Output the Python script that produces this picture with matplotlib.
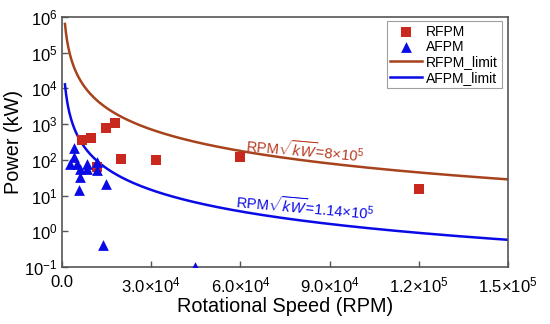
import numpy as np
import matplotlib
matplotlib.use("Agg")
import matplotlib.pyplot as plt
from matplotlib.ticker import LogLocator, LogFormatterMathtext, NullLocator

plt.rcParams['font.family'] = ['Liberation Sans', 'DejaVu Sans']
plt.rcParams['mathtext.fontset'] = 'custom'
plt.rcParams['mathtext.rm'] = 'Liberation Sans'
plt.rcParams['mathtext.it'] = 'Liberation Sans:italic'
plt.rcParams['mathtext.bf'] = 'Liberation Sans:bold'

# Data
rfpm_rpm = [6600, 9760, 14800, 17700, 19700, 31600, 59800, 120000, 11700]
rfpm_kw = [370, 400, 800, 1100, 103, 98, 122, 15, 65]

afpm_rpm = [4040, 4040, 2690, 4930, 8520, 11900, 6050, 8300, 11670, 6050, 5830, 14800, 13680, 44700]
afpm_kw = [215, 117, 79, 79, 79, 89, 54, 54, 51, 34, 14, 21, 0.41, 0.1]

rfpm_const = 8e5
afpm_const = 1.14e5
limit_rpm_start, limit_rpm_end = 1000, 150000

x_ticks = [0, 30000, 60000, 90000, 120000, 150000]
x_tick_labels = ['0.0', r'3.0×10$^4$', r'6.0×10$^4$', r'9.0×10$^4$', r'1.2×10$^5$', r'1.5×10$^5$']

red_marker = '#C8281E'
red_line = '#A8421C'
blue = '#0A0AE6'

fig = plt.figure(figsize=(5.5, 3.24), dpi=100)
ax = fig.add_axes([0.1127, 0.1759, 0.8109, 0.7716])

rpm = np.linspace(limit_rpm_start, limit_rpm_end, 800)
ax.scatter(rfpm_rpm, rfpm_kw, marker='s', s=42, color=red_marker, label='RFPM', zorder=3, linewidths=0)
ax.scatter(afpm_rpm, afpm_kw, marker='^', s=60, color=blue, label='AFPM', zorder=3, linewidths=0)
ax.plot(rpm, (rfpm_const / rpm) ** 2, color=red_line, lw=1.8, label='RFPM_limit', zorder=2)
ax.plot(rpm, (afpm_const / rpm) ** 2, color=blue, lw=1.8, label='AFPM_limit', zorder=2)

ax.set_yscale('log')
ax.set_xlim(0, 150000)
ax.set_ylim(0.1, 1e6)
ax.set_xticks(x_ticks)
ax.set_xticklabels(x_tick_labels)
ax.yaxis.set_major_locator(LogLocator(base=10, numticks=10))
ax.yaxis.set_major_formatter(LogFormatterMathtext())
ax.yaxis.set_minor_locator(NullLocator())

ax.tick_params(axis='both', direction='in', labelsize=12, length=4, width=1, color='#555555')
ax.tick_params(axis='x', pad=6)
ax.tick_params(axis='y', pad=3)
for s in ax.spines.values():
    s.set_color('#555555')
    s.set_linewidth(1.2)

ax.set_xlabel('Rotational Speed (RPM)', fontsize=14.3, labelpad=1)
ax.set_ylabel('Power (kW)', fontsize=14.3, labelpad=1)

ax.text(61500, 135, r'RPM$\sqrt{kW}$=8×10$^5$', color='#B83A22', fontsize=10.5,
        rotation=-5, ha='left', va='bottom', rotation_mode='anchor')
ax.text(58000, 3.6, r'RPM$\sqrt{kW}$=1.14×10$^5$', color=blue, fontsize=10.5,
        rotation=-5, ha='left', va='bottom', rotation_mode='anchor')

leg = ax.legend(loc='upper right', bbox_to_anchor=(0.992, 0.995), fontsize=10,
                frameon=True, fancybox=False, edgecolor='#888888', borderpad=0.25,
                labelspacing=0.1, handlelength=2.3, handletextpad=0.3, borderaxespad=0.2)
leg.get_frame().set_linewidth(0.8)

fig.savefig('out.png', dpi=100)
